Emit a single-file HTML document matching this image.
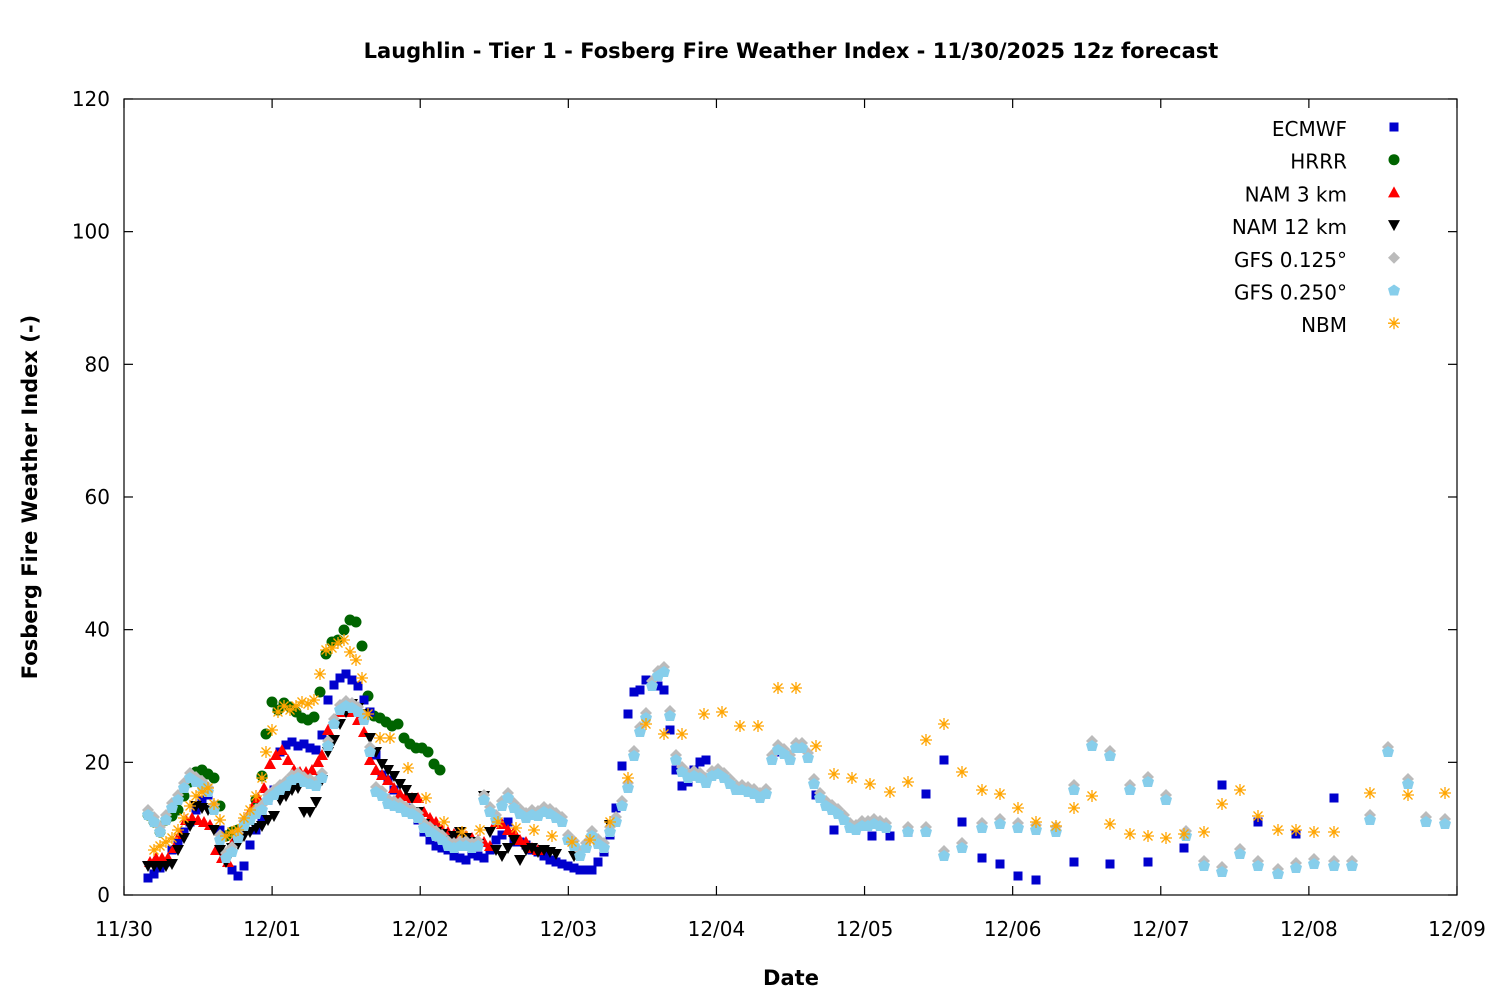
<!DOCTYPE html><html><head><style>body{margin:0;background:#fff}svg{display:block}text{font-family:"DejaVu Sans","Liberation Sans",sans-serif;}</style></head><body>
<svg id="s" width="1500" height="1000" xmlns="http://www.w3.org/2000/svg">
<rect width="1500" height="1000" fill="#fff"/>
<text x="791" y="58" text-anchor="middle" font-size="21" font-weight="bold">Laughlin - Tier 1 - Fosberg Fire Weather Index - 11/30/2025 12z forecast</text>
<text x="791" y="985" text-anchor="middle" font-size="21" font-weight="bold">Date</text>
<text transform="translate(37,497) rotate(-90)" text-anchor="middle" font-size="21" font-weight="bold">Fosberg Fire Weather Index (-)</text>
<g id="ax" stroke="#000" stroke-width="1.2" fill="none"><rect x="124" y="99" width="1333" height="796"/></g>
<g id="lab" font-size="20"></g>
<g id="pts"></g>
</svg>
<script>
const NS="http://www.w3.org/2000/svg",s=document.getElementById('s'),ax=document.getElementById('ax'),lab=document.getElementById('lab'),P=document.getElementById('pts');
function el(t,a,p){const e=document.createElementNS(NS,t);for(const k in a)e.setAttribute(k,a[k]);(p||s).appendChild(e);return e;}
for(let i=0;i<=6;i++){const y=895-i*132.67;el('line',{x1:124,y1:y,x2:133,y2:y},ax);el('line',{x1:1448,y1:y,x2:1457,y2:y},ax);const t=el('text',{x:110,y:y+7,'text-anchor':'end'},lab);t.textContent=i*20;}
const d=['11/30','12/01','12/02','12/03','12/04','12/05','12/06','12/07','12/08','12/09'];
for(let i=0;i<=9;i++){const x=124+i*148.11;el('line',{x1:x,y1:895,x2:x,y2:886},ax);el('line',{x1:x,y1:99,x2:x,y2:108},ax);const t=el('text',{x:x,y:936,'text-anchor':'middle'},lab);t.textContent=d[i];}
function pa(str){return str.trim().split(/\s+/).map(p=>p.split(',').map(Number));}
function mk(type,x,y,c,g){g=g||P;
 if(type=='sq')el('rect',{x:x-4.5,y:y-4.5,width:9,height:9,fill:c},g);
 else if(type=='ci')el('circle',{cx:x,cy:y,r:5.5,fill:c},g);
 else if(type=='tu')el('polygon',{points:`${x},${y-6} ${x-6},${y+5} ${x+6},${y+5}`,fill:c},g);
 else if(type=='td')el('polygon',{points:`${x},${y+6} ${x-6},${y-5} ${x+6},${y-5}`,fill:c},g);
 else if(type=='di')el('polygon',{points:`${x},${y-6} ${x+6},${y} ${x},${y+6} ${x-6},${y}`,fill:c},g);
 else if(type=='pe')el('polygon',{points:`${x},${y-6} ${x+6},${y-2} ${x+4},${y+5} ${x-4},${y+5} ${x-6},${y-2}`,fill:c},g);
 else if(type=='as')el('path',{d:`M${x-6},${y}h12M${x},${y-6}v12M${x-4.5},${y-4.5}l9,9M${x-4.5},${y+4.5}l9,-9`,stroke:c,'stroke-width':1.3,fill:'none'},g);
}
const ec=pa(`148,878 154,874 160,868 166,862 172,850 178,842 184,832 190,822 196,810 202,800 208,795 214,808 220,830 226,858 232,870 238,876 244,866 250,845 256,830 262,818 268,800 274,790 280,752 286,745 292,742 298,746 304,744 310,748 316,750 322,735 328,700 334,685 340,678 346,674 352,680 358,686 364,700 370,712 376,755 382,775 388,780 394,790 400,800 406,808 412,812 418,820 424,832 430,840 436,846 442,848 448,850 454,856 460,858 466,860 472,854 478,856 484,858 490,850 496,840 502,835 508,822 514,842 520,842 526,845 532,850 538,852 544,856 550,860 556,862 562,864 568,866 574,868 580,870 586,870 592,870 598,862 604,852 610,835 616,808 622,766 628,714 634,692 640,690 646,680 652,682 658,686 664,690 670,730 676,770 682,786 688,782 694,770 700,762 706,760 780,752 816,795 834,830 872,836 890,836 908,832 926,794 944,760 962,822 982,858 1000,864 1018,876 1036,880 1074,862 1110,864 1148,862 1184,848 1222,785 1258,822 1296,834 1334,798`);
const hr=pa(`148,815 154,822 160,832 166,820 172,816 178,810 184,796 190,782 196,772 202,770 208,774 214,778 220,806 226,836 232,832 238,830 244,826 250,818 256,800 262,776 266,734 272,702 278,710 284,703 290,707 296,712 302,718 308,720 314,717 320,692 326,654 332,642 338,640 344,630 350,620 356,622 362,646 368,696 374,716 380,718 386,722 392,726 398,724 404,738 410,744 416,748 422,748 428,752 434,764 440,770`);
const n3=pa(`150,862 156,858 162,858 168,858 174,848 180,834 186,820 192,818 198,820 204,822 210,825 216,850 222,858 228,862 234,840 240,830 246,818 252,808 258,798 264,788 270,764 276,755 282,750 288,760 294,770 300,772 306,772 312,770 318,762 322,755 328,730 334,720 340,712 346,708 352,712 358,720 364,732 370,760 376,770 382,775 388,780 394,788 400,794 406,796 412,798 418,798 424,812 430,818 436,822 442,830 448,832 454,834 460,836 466,836 472,838 478,840 484,842 490,846 496,822 502,824 508,830 514,832 520,840 526,842 532,848 538,850`);
const n12=pa(`148,866 154,866 160,866 166,866 172,864 178,850 184,838 190,826 196,806 202,808 208,810 214,830 220,850 226,862 232,848 238,844 244,836 250,832 256,828 262,826 268,820 274,816 280,800 286,796 292,790 298,788 304,812 310,812 316,802 322,780 328,752 334,740 340,724 346,712 352,704 358,708 364,714 370,738 376,752 382,764 388,770 394,776 400,784 406,790 412,798 418,812 424,824 430,830 436,832 442,834 448,840 454,836 460,832 466,838 472,842 478,844 484,796 490,832 496,850 502,856 508,848 514,840 520,860 526,850 532,848 538,852 544,850 550,852 556,854 574,856 610,825`);
const gb=pa(`148,815 154,822 160,832 166,820 172,808 178,800 184,788 190,778 196,782 202,786 208,792 214,810 220,840 226,858 232,852 238,838 244,826 250,820 256,814 262,810 268,800 274,795 280,790 286,786 292,780 298,778 304,782 310,784 316,786 322,778 328,746 334,724 340,710 346,706 352,708 358,712 364,720 370,752 376,792 382,796 388,804 394,806 400,808 406,812 412,814 418,818 424,828 430,832 436,836 442,840 448,846 454,848 460,846 466,846 472,848 478,846 484,800 490,812 496,820 502,806 508,798 514,808 520,814 526,818 532,815 538,816 544,812 550,814 556,818 562,822 568,840 574,846 580,856 586,848 592,836 598,844 604,848 610,832 616,822 622,806 628,788 634,756 640,732 646,718 652,686 658,676 664,672 670,716 676,760 682,772 688,778 694,776 700,778 706,783 712,776 718,774 724,778 730,784 736,790 742,790 748,792 754,794 760,798 766,794 772,760 778,750 784,754 790,760 796,748 802,748 808,758 814,784 820,798 826,806 832,810 838,814 844,820 850,828 856,830 862,826 868,826 874,824 880,826 886,828 908,832 926,832 944,856 962,848 982,828 1000,824 1018,828 1036,830 1056,832 1074,790 1092,746 1110,756 1130,790 1148,782 1166,800 1186,836 1204,866 1222,872 1240,854 1258,866 1278,874 1296,868 1314,864 1334,866 1352,866 1370,820 1388,752 1408,784 1426,822 1445,824`);
const nb=pa(`154,850 160,846 166,842 172,838 178,830 184,818 190,806 196,796 202,792 208,788 214,804 220,820 226,836 232,832 238,830 244,818 250,810 256,796 262,778 266,752 272,730 278,712 284,706 290,710 296,706 302,702 308,704 314,700 320,674 326,650 332,648 338,643 344,640 350,652 356,660 362,678 368,714 380,738 390,738 408,768 426,798 444,822 462,832 480,830 498,822 516,828 534,830 552,836 572,842 590,840 610,822 628,778 646,724 664,734 682,734 704,714 722,712 740,726 758,726 778,688 796,688 816,746 834,774 852,778 870,784 890,792 908,782 926,740 944,724 962,772 982,790 1000,794 1018,808 1036,822 1056,826 1074,808 1092,796 1110,824 1130,834 1148,836 1166,838 1184,834 1204,832 1222,804 1240,790 1258,816 1278,830 1296,830 1314,832 1334,832 1370,793 1408,795 1445,793`);
hr.forEach(p=>mk('ci',p[0],p[1],'#006400'));
ec.forEach(p=>mk('sq',p[0],p[1],'#0000cd'));
n3.forEach(p=>mk('tu',p[0],p[1],'#ff0000'));
n12.forEach(p=>mk('td',p[0],p[1],'#000'));
gb.forEach(p=>mk('di',p[0],p[1]-5,'#bbbbbb'));
gb.forEach(p=>mk('pe',p[0],p[1],'#87ceeb'));
nb.forEach(p=>mk('as',p[0],p[1],'#ffa500'));
const L=[['ECMWF','sq','#0000cd'],['HRRR','ci','#006400'],['NAM 3 km','tu','#ff0000'],['NAM 12 km','td','#000'],['GFS 0.125°','di','#bbbbbb'],['GFS 0.250°','pe','#87ceeb'],['NBM','as','#ffa500']];
L.forEach((l,i)=>{const y=129+i*32.7;const t=el('text',{x:1347,y:y+7,'text-anchor':'end'},lab);t.textContent=l[0];mk(l[1],1394,y-2,l[2]);});
</script>
</body></html>
